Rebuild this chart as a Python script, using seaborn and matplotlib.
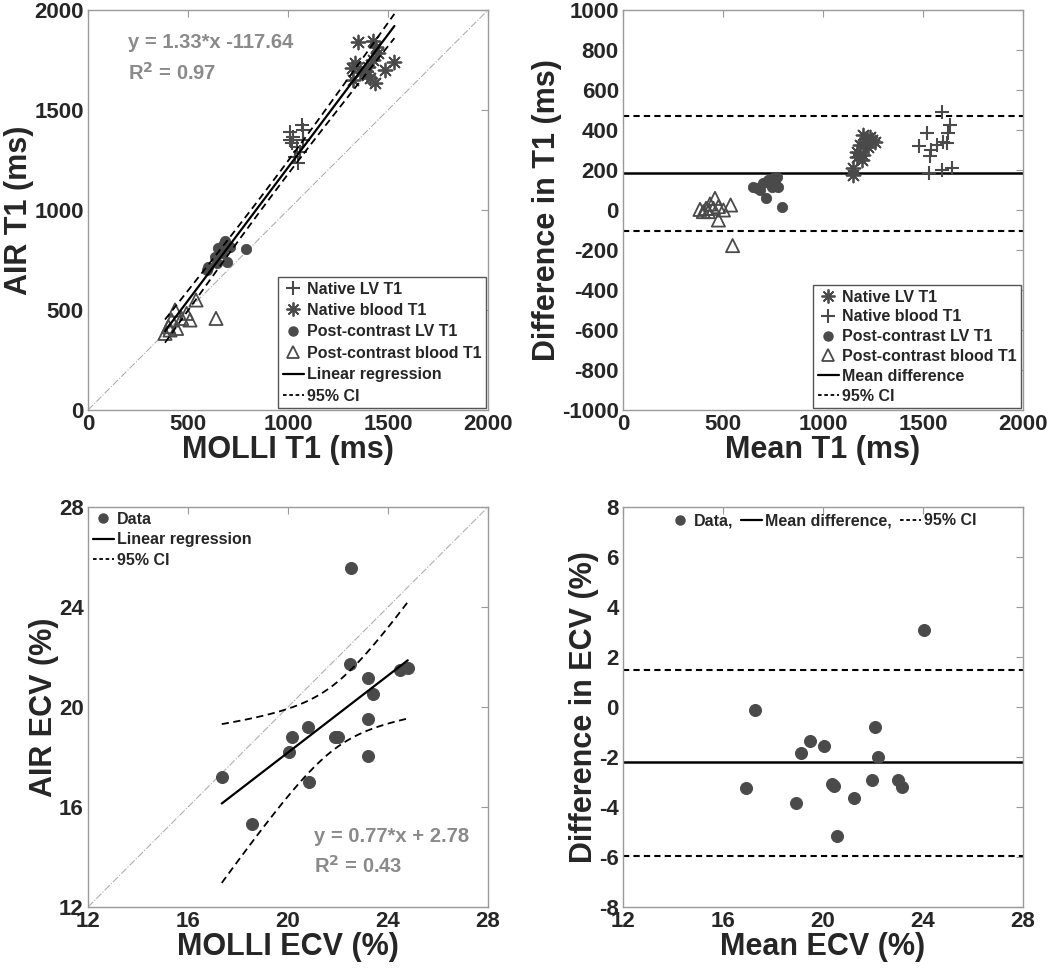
import numpy as np
import pandas as pd
import seaborn as sns
import matplotlib.pyplot as plt
from matplotlib.lines import Line2D

# top left: AIR vs MOLLI T1 (ms)
native_lv_molli = [1010, 1068, 1077, 1027, 1018, 1043, 1060, 1035, 1052, 1010, 1077]
native_lv_air = [1392, 1425, 1400, 1367, 1333, 1317, 1292, 1267, 1233, 1350, 1350]
native_blood_molli = [1352, 1423, 1440, 1452, 1335, 1318, 1360, 1393, 1410, 1435, 1485, 1532, 1327, 1427, 1402]
native_blood_air = [1842, 1847, 1817, 1783, 1733, 1708, 1692, 1675, 1658, 1633, 1700, 1742, 1650, 1750, 1717]
post_lv_molli = [685, 652, 710, 635, 668, 693, 602, 593, 788, 677, 643]
post_lv_air = [847, 808, 817, 767, 783, 742, 717, 700, 805, 825, 733]
post_blood_molli = [540, 640, 510, 493, 435, 418, 402, 385, 410, 443, 468]
post_blood_air = [550, 458, 450, 483, 500, 450, 417, 383, 400, 408, 458]
t1_slope, t1_icept, t1_r2 = 1.33, -117.64, 0.97

# top right: Bland-Altman T1
ba_star_mean = [1152, 1152, 1193, 1168, 1185, 1218, 1243, 1260, 1202, 1227, 1202, 1168, 1210, 1235]
ba_star_diff = [208, 175, 250, 292, 325, 358, 350, 342, 375, 317, 275, 267, 342, 367]
ba_plus_mean = [1593, 1635, 1522, 1627, 1480, 1538, 1568, 1602, 1535, 1532, 1593, 1643, 1618]
ba_plus_diff = [488, 425, 383, 383, 320, 300, 325, 342, 270, 183, 200, 212, 333]
ba_dot_mean = [652, 702, 727, 752, 768, 743, 777, 715, 793, 668, 685, 735, 760]
ba_dot_diff = [113, 133, 150, 158, 167, 117, 113, 58, 17, 108, 100, 133, 150]
ba_tri_mean = [385, 415, 435, 460, 477, 502, 538, 477, 548, 402, 427, 452]
ba_tri_diff = [3, 8, 30, 58, 17, 0, 25, -50, -178, -8, -8, 8]
t1_mean_diff, t1_lo, t1_hi = 183, -105, 471

# bottom left: AIR vs MOLLI ECV (%)
ecv_molli = [22.52, 22.48, 23.21, 24.48, 24.79, 23.41, 23.21, 20.81, 20.17, 21.88, 22.01, 20.05, 23.21, 17.35, 20.85, 18.55]
ecv_air = [25.57, 21.71, 21.17, 21.47, 21.56, 20.52, 19.51, 19.21, 18.79, 18.81, 18.81, 18.21, 18.05, 17.21, 17.01, 15.31]
ecv_slope, ecv_icept, ecv_r2 = 0.77, 2.78, 0.43

# bottom right: Bland-Altman ECV
ba_ecv_mean = [24.04, 17.27, 22.09, 19.48, 20.03, 19.13, 22.2, 21.96, 22.99, 23.17, 20.35, 20.45, 16.92, 21.25, 18.93, 20.55]
ba_ecv_diff = [3.09, -0.12, -0.78, -1.36, -1.55, -1.84, -2.01, -2.91, -2.91, -3.19, -3.07, -3.16, -3.23, -3.65, -3.83, -5.15]
ecv_mean_diff, ecv_lo, ecv_hi = -2.21, -5.94, 1.49

sns.set_style("white")
plt.rcParams['font.family'] = ['Liberation Sans', 'DejaVu Sans']
plt.rcParams['font.weight'] = 'bold'
plt.rcParams['axes.unicode_minus'] = False

mk = '#4a4a4a'
txt_gray = '#8a8a8a'
spine_gray = '#9a9a9a'
asterisk = (8, 2, 0)
leg_font = {'size': 11.5, 'weight': 'bold'}


def ci_band(x, y, slope, icept, xs, crit):
    # simultaneous 95% confidence band of the fitted line
    x = np.asarray(x, float)
    y = np.asarray(y, float)
    n = len(x)
    resid = y - (slope * x + icept)
    s = np.sqrt(np.sum(resid ** 2) / (n - 2))
    sxx = np.sum((x - x.mean()) ** 2)
    half = crit * s * np.sqrt(1 / n + (xs - x.mean()) ** 2 / sxx)
    fit = slope * xs + icept
    return fit - half, fit + half


def style_axes(ax, xlim, ylim, xticks, yticks):
    ax.set_xlim(xlim)
    ax.set_ylim(ylim)
    ax.set_xticks(xticks)
    ax.set_yticks(yticks)
    for sp in ax.spines.values():
        sp.set_color(spine_gray)
        sp.set_linewidth(1.0)
    ax.tick_params(direction='in', length=5, color=spine_gray, top=True, right=True,
                   labelsize=16, pad=3)
    for lab in ax.get_xticklabels() + ax.get_yticklabels():
        lab.set_fontweight('bold')


fig = plt.figure(figsize=(10.5, 9.68), dpi=100)
ax1 = fig.add_axes([88 / 1050, 558 / 968, 400 / 1050, 400 / 968])
ax2 = fig.add_axes([623 / 1050, 558 / 968, 400 / 1050, 400 / 968])
ax3 = fig.add_axes([88 / 1050, 61 / 968, 400 / 1050, 400 / 968])
ax4 = fig.add_axes([623 / 1050, 61 / 968, 400 / 1050, 400 / 968])

# ---- top left
ax1.plot([0, 2000], [0, 2000], color='#b0b0b0', lw=0.8, ls='-.', zorder=1)
sns.scatterplot(x=native_lv_molli, y=native_lv_air, marker='+', s=110, color=mk, linewidth=1.5, ax=ax1, zorder=3)
sns.scatterplot(x=native_blood_molli, y=native_blood_air, marker=asterisk, s=100, color=mk, edgecolor=mk, linewidth=1.3, ax=ax1, zorder=3)
sns.scatterplot(x=post_lv_molli, y=post_lv_air, marker='o', s=55, color=mk, edgecolor=mk, ax=ax1, zorder=3)
sns.scatterplot(x=post_blood_molli, y=post_blood_air, marker='^', s=90, facecolor='none', edgecolor=mk, linewidth=1.3, ax=ax1, zorder=3)

all_molli = native_lv_molli + native_blood_molli + post_lv_molli + post_blood_molli
all_air = native_lv_air + native_blood_air + post_lv_air + post_blood_air
xs1 = np.linspace(min(all_molli), max(all_molli), 100)
lo1, hi1 = ci_band(all_molli, all_air, t1_slope, t1_icept, xs1, 2.517)
ax1.plot(xs1, t1_slope * xs1 + t1_icept, color='black', lw=1.6, zorder=4)
ax1.plot(xs1, lo1, color='black', lw=1.3, ls=(0, (4, 2.5)), zorder=4)
ax1.plot(xs1, hi1, color='black', lw=1.3, ls=(0, (4, 2.5)), zorder=4)
ax1.text(0.1, 0.905, 'y = %.2f*x %.2f' % (t1_slope, t1_icept), transform=ax1.transAxes,
         color=txt_gray, fontsize=14.5, fontweight='bold')
ax1.text(0.1, 0.825, 'R$^{\\mathbf{2}}$ = %.2f' % t1_r2, transform=ax1.transAxes,
         color=txt_gray, fontsize=14.5, fontweight='bold')
style_axes(ax1, (0, 2000), (0, 2000), [0, 500, 1000, 1500, 2000], [0, 500, 1000, 1500, 2000])
ax1.set_xlabel('MOLLI T1 (ms)', fontsize=22, fontweight='bold', labelpad=0)
ax1.set_ylabel('AIR T1 (ms)', fontsize=22, fontweight='bold', labelpad=0)

h1 = [Line2D([], [], ls='none', marker='+', ms=10, mew=1.5, color=mk),
      Line2D([], [], ls='none', marker=asterisk, ms=10, mew=1.3, color=mk),
      Line2D([], [], ls='none', marker='o', ms=6.5, color=mk),
      Line2D([], [], ls='none', marker='^', ms=9, mfc='none', mec=mk, mew=1.3),
      Line2D([], [], color='black', lw=1.6),
      Line2D([], [], color='black', lw=1.3, ls=(0, (2, 1.5)))]
l1 = ['Native LV T1', 'Native blood T1', 'Post-contrast LV T1', 'Post-contrast blood T1',
      'Linear regression', '95% CI']
leg = ax1.legend(h1, l1, loc='lower right', prop=leg_font, handlelength=1.3,
                 handletextpad=0.2, labelspacing=0.4, borderpad=0.3, borderaxespad=0.1,
                 fancybox=False, edgecolor='#555555', framealpha=1)
leg.get_frame().set_linewidth(1.0)

# ---- top right
sns.scatterplot(x=ba_star_mean, y=ba_star_diff, marker=asterisk, s=100, color=mk, edgecolor=mk, linewidth=1.3, ax=ax2, zorder=3)
sns.scatterplot(x=ba_plus_mean, y=ba_plus_diff, marker='+', s=110, color=mk, linewidth=1.5, ax=ax2, zorder=3)
sns.scatterplot(x=ba_dot_mean, y=ba_dot_diff, marker='o', s=55, color=mk, edgecolor=mk, ax=ax2, zorder=3)
sns.scatterplot(x=ba_tri_mean, y=ba_tri_diff, marker='^', s=90, facecolor='none', edgecolor=mk, linewidth=1.3, ax=ax2, zorder=3)
ax2.axhline(t1_mean_diff, color='black', lw=1.8, zorder=2)
ax2.axhline(t1_lo, color='black', lw=1.5, ls=(0, (3, 2)), zorder=2)
ax2.axhline(t1_hi, color='black', lw=1.5, ls=(0, (3, 2)), zorder=2)
style_axes(ax2, (0, 2000), (-1000, 1000), [0, 500, 1000, 1500, 2000], np.arange(-1000, 1001, 200))
ax2.set_xlabel('Mean T1 (ms)', fontsize=22, fontweight='bold', labelpad=0)
ax2.set_ylabel('Difference in T1 (ms)', fontsize=22, fontweight='bold', labelpad=0)

h2 = [h1[1], h1[0], h1[2], h1[3], h1[4], h1[5]]
l2 = ['Native LV T1', 'Native blood T1', 'Post-contrast LV T1', 'Post-contrast blood T1',
      'Mean difference', '95% CI']
leg = ax2.legend(h2, l2, loc='lower right', prop=leg_font, handlelength=1.3,
                 handletextpad=0.2, labelspacing=0.3, borderpad=0.3, borderaxespad=0.1,
                 fancybox=False, edgecolor='#555555', framealpha=1)
leg.get_frame().set_linewidth(1.0)

# ---- bottom left
ax3.plot([12, 28], [12, 28], color='#b0b0b0', lw=0.8, ls='-.', zorder=1)
sns.scatterplot(x=ecv_molli, y=ecv_air, marker='o', s=75, color=mk, edgecolor=mk, ax=ax3, zorder=3)
xs3 = np.linspace(min(ecv_molli), max(ecv_molli), 100)
lo3, hi3 = ci_band(ecv_molli, ecv_air, ecv_slope, ecv_icept, xs3, 2.735)
ax3.plot(xs3, ecv_slope * xs3 + ecv_icept, color='black', lw=1.6, zorder=4)
ax3.plot(xs3, lo3, color='black', lw=1.3, ls=(0, (4, 2.5)), zorder=4)
ax3.plot(xs3, hi3, color='black', lw=1.3, ls=(0, (4, 2.5)), zorder=4)
ax3.text(0.565, 0.163, 'y = %.2f*x + %.2f' % (ecv_slope, ecv_icept), transform=ax3.transAxes,
         color=txt_gray, fontsize=14.5, fontweight='bold')
ax3.text(0.565, 0.085, 'R$^{\\mathbf{2}}$ = %.2f' % ecv_r2, transform=ax3.transAxes,
         color=txt_gray, fontsize=14.5, fontweight='bold')
style_axes(ax3, (12, 28), (12, 28), [12, 16, 20, 24, 28], [12, 16, 20, 24, 28])
ax3.set_xlabel('MOLLI ECV (%)', fontsize=22, fontweight='bold', labelpad=0)
ax3.set_ylabel('AIR ECV (%)', fontsize=22, fontweight='bold', labelpad=0)
h3 = [Line2D([], [], ls='none', marker='o', ms=6.5, color=mk), h1[4], h1[5]]
ax3.legend(h3, ['Data', 'Linear regression', '95% CI'], loc='upper left', prop=leg_font,
           handlelength=1.3, handletextpad=0.2, labelspacing=0.35, borderpad=0.2, borderaxespad=0.1,
           frameon=False)

# ---- bottom right
sns.scatterplot(x=ba_ecv_mean, y=ba_ecv_diff, marker='o', s=75, color=mk, edgecolor=mk, ax=ax4, zorder=3)
ax4.axhline(ecv_mean_diff, color='black', lw=1.8, zorder=2)
ax4.axhline(ecv_lo, color='black', lw=1.5, ls=(0, (3, 2)), zorder=2)
ax4.axhline(ecv_hi, color='black', lw=1.5, ls=(0, (3, 2)), zorder=2)
style_axes(ax4, (12, 28), (-8, 8), [12, 16, 20, 24, 28], np.arange(-8, 9, 2))
ax4.set_xlabel('Mean ECV (%)', fontsize=22, fontweight='bold', labelpad=0)
ax4.set_ylabel('Difference in ECV (%)', fontsize=22, fontweight='bold', labelpad=0)
h4 = [Line2D([], [], ls='none', marker='o', ms=6.5, color=mk), h1[4], h1[5]]
ax4.legend(h4, ['Data,', 'Mean difference,', '95% CI'], loc='upper center', ncol=3,
           prop=leg_font, handlelength=1.3, handletextpad=0.2,
           columnspacing=0.5, borderpad=0.3, borderaxespad=0.1, frameon=False)

fig.savefig('out.png', dpi=100)
